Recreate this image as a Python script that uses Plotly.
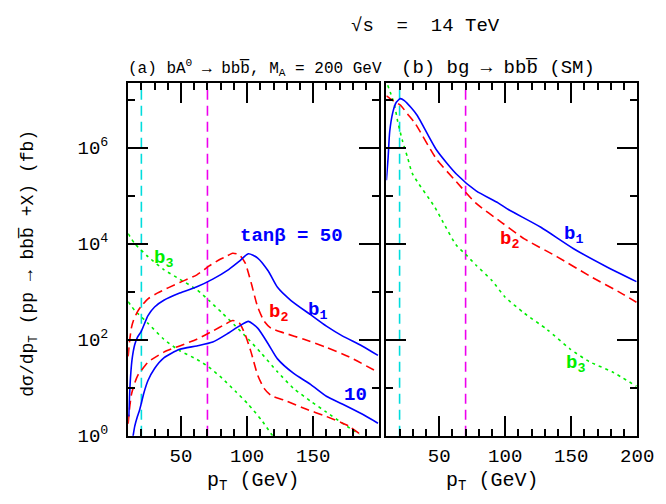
import plotly.graph_objects as go

# ---------------- data ----------------
# (a) bA0 -> bbb, tan(beta)=50
a50_b1_x = [10.5, 11, 12, 13, 15, 17, 20, 25, 30, 37, 49, 62, 74, 86, 94, 101, 108, 116, 123, 133, 148, 160, 172, 187, 199]
a50_b1_y = [2.5, 6.3, 20, 40, 79, 112, 151, 316, 479, 661, 933, 1260, 1820, 2880, 4270, 6170, 5010, 2690, 1230, 661, 331, 191, 120, 74, 47]
a50_b2_x = [10, 11, 12.5, 14, 17, 20, 25, 32, 49, 62, 71, 80, 84, 89, 94, 98.5, 103, 108, 113, 118, 128, 143, 160, 177, 199]
a50_b2_y = [45, 89, 178, 251, 380, 501, 708, 933, 1550, 2240, 3390, 4790, 5370, 6310, 5890, 3980, 1550, 479, 240, 174, 138, 102, 69, 44, 21]
a50_b3_x = [10, 15, 25, 37, 49, 62, 71, 81, 91, 101, 111, 123, 135, 148, 160, 172, 185]
a50_b3_y = [16200, 10000, 5370, 2880, 1820, 1100, 661, 363, 195, 102, 51.3, 21.4, 9.77, 5.25, 3.09, 1.82, 1.07]
# (a) tan(beta)=10
a10_b1_x = [13.5, 15, 17, 18.6, 20, 22, 25, 30, 37, 49, 62, 74, 86, 94, 101, 108, 116, 123, 135, 148, 160, 172, 187, 199]
a10_b1_y = [0.9, 1.58, 2.51, 3.39, 4.79, 7.94, 14.1, 25.1, 41.7, 63.1, 74.1, 89.1, 138, 191, 240, 174, 81.3, 39.8, 20, 11.7, 6.61, 4.57, 2.82, 1.82]
a10_b2_x = [10, 11, 12.5, 15, 17.4, 20, 25, 37, 49, 62, 74, 84, 89, 94, 98.5, 103, 108, 113, 118, 128, 143, 160, 177, 188]
a10_b2_y = [1.78, 3.55, 7.24, 12.6, 18.2, 22.9, 33.9, 55, 74.1, 102, 151, 214, 251, 224, 129, 55, 18.2, 9.55, 6.92, 5.5, 3.72, 2.51, 1.58, 0.95]
a10_b3_x = [10, 15, 25, 37, 49, 62, 71, 81, 91, 101, 111, 119.4]
a10_b3_y = [617, 407, 219, 102, 58.9, 38.9, 26.9, 15.8, 8.51, 4.47, 2.09, 0.98]
# (b) bg -> bbb (SM)
sm_b1_x = [10, 11.3, 12.5, 14.9, 17.4, 20.6, 23.6, 28.5, 33.4, 48, 63, 78, 94.6, 102.4, 127, 151.5, 176, 199.4]
sm_b1_y = [2.09e5, 6.17e5, 2.14e6, 5.5e6, 8.71e6, 1.05e7, 9.55e6, 6.92e6, 4.68e6, 8.91e5, 2.82e5, 1.26e5, 7.08e4, 5.13e4, 2.19e4, 7.94e3, 3.39e3, 1.62e3]
sm_b2_x = [10, 14, 20.8, 26, 31.9, 48, 63, 77.6, 97.4, 114.5, 139.1, 163.8, 188.4, 199.4]
sm_b2_y = [1.2e7, 1e7, 7.59e6, 5.01e6, 3.16e6, 5.75e5, 1.95e5, 7.08e4, 2.75e4, 1.26e4, 5.37e3, 2.14e3, 912, 603]
sm_b3_x = [11, 13, 16.2, 18.6, 22.3, 26, 29.7, 46.9, 53.1, 62.9, 70.3, 77.6, 90, 99.8, 114.5, 131.8, 149, 163.8, 181, 199.4]
sm_b3_y = [2e7, 1.41e7, 7.59e6, 3.47e6, 1.35e6, 6.31e5, 2.88e5, 5.62e4, 2.75e4, 9.33e3, 5.89e3, 3.63e3, 1.7e3, 776, 355, 162, 64.6, 34.7, 21.4, 10.7]

cut_lines = [20, 70]
x_major = [50, 100, 150, 200]
x_minor = [20, 30, 40, 60, 70, 80, 90, 110, 120, 130, 140, 160, 170, 180, 190]
y_major = [1, 1e2, 1e4, 1e6]
y_major_text = ["10<sup>0</sup>", "10<sup>2</sup>", "10<sup>4</sup>", "10<sup>6</sup>"]
y_minor = [10, 1e3, 1e5, 1e7]

# ---------------- styling ----------------
FONT = "Liberation Mono"
BLUE = "#0000ff"
RED = "#ff0000"
GREEN = "#00ee00"
CYAN = "#00dddd"
MAGENTA = "#ee00ee"

W, H = 666, 504
fig = go.Figure()

def line(x, y, color, dash, xa, ya):
    fig.add_trace(go.Scatter(x=x, y=y, mode="lines",
                             line=dict(color=color, width=1.6, dash=dash, shape="spline", smoothing=0.6),
                             xaxis=xa, yaxis=ya, showlegend=False, hoverinfo="skip"))

DASH = "9px,5px"
DOT = "3px,4px"
line(a50_b3_x, a50_b3_y, GREEN, DOT, "x", "y")
line(a10_b3_x, a10_b3_y, GREEN, DOT, "x", "y")
line(a50_b2_x, a50_b2_y, RED, DASH, "x", "y")
line(a10_b2_x, a10_b2_y, RED, DASH, "x", "y")
line(a50_b1_x, a50_b1_y, BLUE, "solid", "x", "y")
line(a10_b1_x, a10_b1_y, BLUE, "solid", "x", "y")
line(sm_b3_x, sm_b3_y, GREEN, DOT, "x2", "y2")
line(sm_b2_x, sm_b2_y, RED, DASH, "x2", "y2")
line(sm_b1_x, sm_b1_y, BLUE, "solid", "x2", "y2")

for xr, yr in (("x", "y"), ("x2", "y2")):
    for xv, col in zip(cut_lines, [CYAN, MAGENTA]):
        fig.add_shape(type="line", xref=xr, yref=yr + " domain", x0=xv, x1=xv, y0=0, y1=1,
                      line=dict(color=col, width=1.6, dash="10px,6px"), layer="below")

ydom = [(504 - 439) / H, (504 - 77.3) / H]
common_x = dict(range=[10, 200], showline=True, linecolor="black", linewidth=2, mirror="ticks",
                ticks="inside", ticklen=20, tickwidth=1.5, tickcolor="black", showgrid=False, zeroline=False,
                tickfont=dict(family=FONT, size=19, color="black"), ticklabelstandoff=2,
                minor=dict(tickmode="array", tickvals=x_minor, ticks="inside", ticklen=7, tickwidth=1.5, tickcolor="black"))
common_y = dict(type="log", range=[0, 7.34], showline=True, linecolor="black", linewidth=2, mirror="ticks",
                ticks="inside", ticklen=20, tickwidth=1.5, tickcolor="black", showgrid=False, zeroline=False,
                tickmode="array", tickvals=y_major, domain=ydom,
                tickfont=dict(family=FONT, size=19, color="black"),
                minor=dict(tickmode="array", tickvals=y_minor, ticks="inside", ticklen=7, tickwidth=1.5, tickcolor="black"))

fig.update_layout(
    width=W, height=H, margin=dict(l=0, r=0, t=0, b=0),
    paper_bgcolor="white", plot_bgcolor="white",
    xaxis=dict(common_x, domain=[123.3 / W, 381 / W], tickmode="array", tickvals=x_major[:3], anchor="y"),
    yaxis=dict(common_y, ticktext=y_major_text, anchor="x", ticklabelstandoff=14),
    xaxis2=dict(common_x, domain=[388.3 / W, 645.7 / W], tickmode="array", tickvals=x_major, anchor="y2"),
    yaxis2=dict(common_y, showticklabels=False, anchor="x2"),
)

OB = "b\u0305"

def A(text, x, y, size, color="black", xref="paper", yref="paper", xanchor="center", **kw):
    fig.add_annotation(text=text, x=x, y=y, xref=xref, yref=yref, showarrow=False,
                       xanchor=xanchor, yanchor="middle",
                       font=dict(family=FONT, size=size, color=color), **kw)

A("\u221As  =  14 TeV", 428 / W, (504 - 18) / H, 19)
A("(a) bA<sup>0</sup> \u2192 bb" + OB + ", M<sub>A</sub> = 200 GeV", 121 / W, (504 - 62) / H, 16, xanchor="left")
A("(b) bg \u2192 bb" + OB + " (SM)", 503 / W, (504 - 62) / H, 19)
A("d\u03c3/dp<sub>T</sub> (pp \u2192 bb" + OB + " +X) (fb)", 22 / W, (504 - 262) / H, 18, textangle=-90)
A("p<sub>T</sub> (GeV)", 251 / W, (504 - 486) / H, 20)
A("p<sub>T</sub> (GeV)", 497 / W, (504 - 486) / H, 20)

A("<b>tan\u03b2 = 50</b>", 133.7, 4.16, 19, BLUE, "x", "y")
A("<b>b<sub>1</sub></b>", 153.6, 2.6, 19, BLUE, "x", "y")
A("<b>b<sub>2</sub></b>", 123.4, 2.56, 19, RED, "x", "y")
A("<b>b<sub>3</sub></b>", 37, 3.67, 19, GREEN, "x", "y")
A("<b>10</b>", 182.3, 0.85, 19, BLUE, "x", "y")
A("<b>b<sub>1</sub></b>", 151.5, 4.18, 19, BLUE, "x2", "y2")
A("<b>b<sub>2</sub></b>", 103.5, 4.08, 19, RED, "x2", "y2")
A("<b>b<sub>3</sub></b>", 153, 1.5, 19, GREEN, "x2", "y2")

fig.write_html("out.html")
